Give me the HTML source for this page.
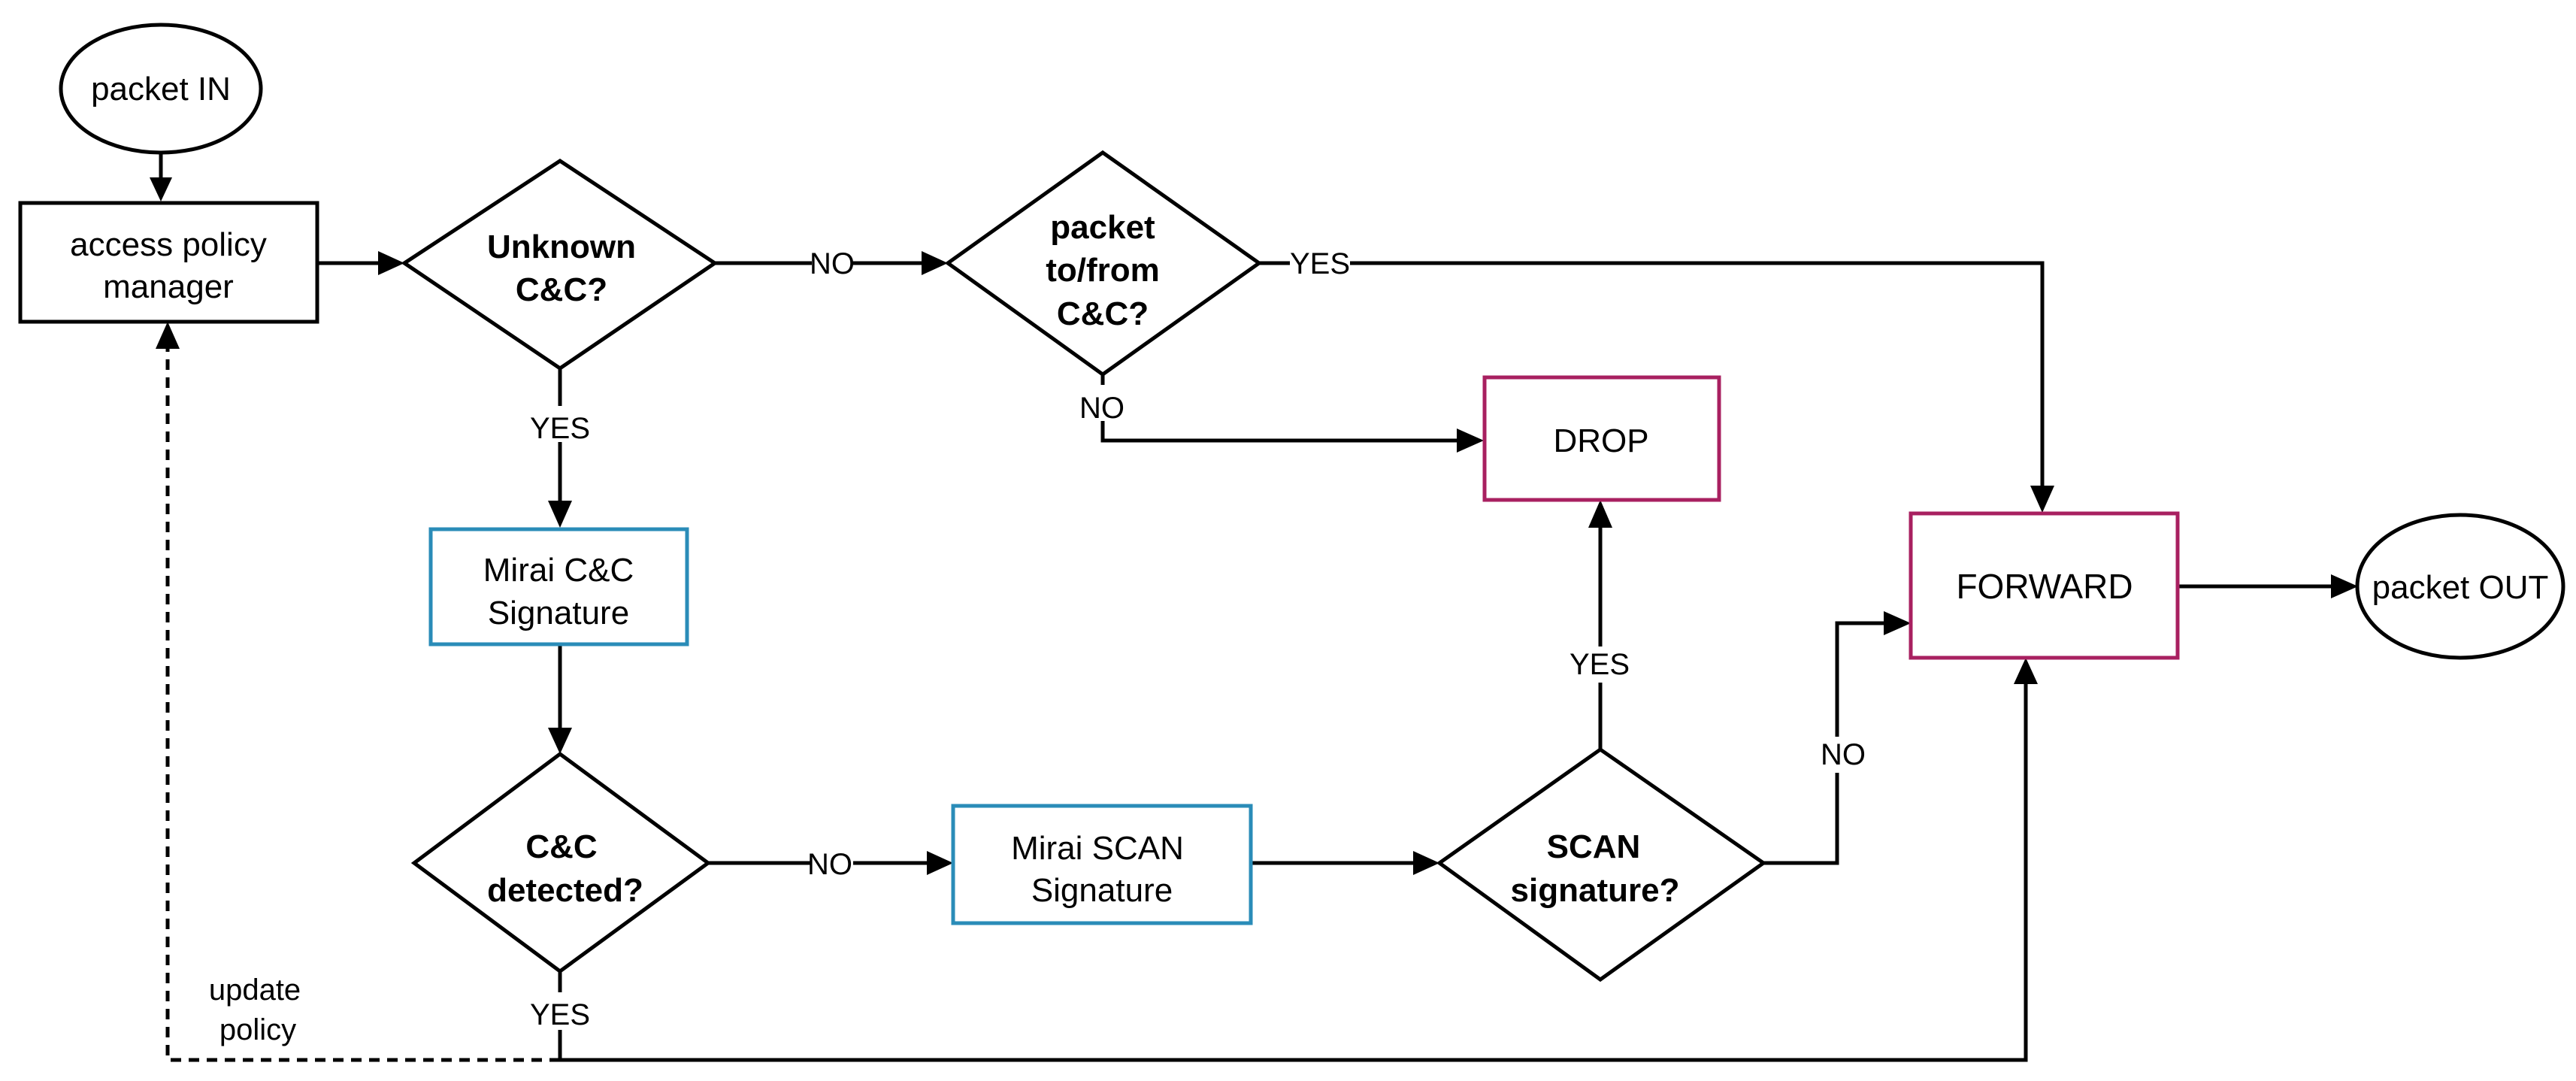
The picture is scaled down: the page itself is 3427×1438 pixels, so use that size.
<!DOCTYPE html>
<html><head><meta charset="utf-8"><style>
html,body{margin:0;padding:0;background:#fff;}
svg{display:block;}
text{font-family:"Liberation Sans",Arial,sans-serif;fill:#000;}
</style></head><body>
<svg width="3427" height="1438" viewBox="0 0 3427 1438" xmlns="http://www.w3.org/2000/svg">
<defs>
<marker id="a" markerWidth="10" markerHeight="10" refX="9" refY="5" orient="auto" markerUnits="userSpaceOnUse" viewBox="0 0 10 10" >
</marker>
</defs>
<g fill="none" stroke="#000" stroke-width="5">
<!-- shapes -->
<ellipse cx="214" cy="118" rx="133" ry="85"/>
<rect x="27" y="270" width="395" height="158"/>
<polygon points="538,350 745,214 951,350 745,490"/>
<polygon points="1261,350 1467,203 1675,350 1467,498"/>
<polygon points="551,1148 745,1003 942,1148 745,1292"/>
<polygon points="1915,1148 2129,997 2346,1148 2129,1303"/>
<ellipse cx="3273" cy="780" rx="137" ry="95"/>
<!-- connectors -->
<line x1="214" y1="203" x2="214" y2="240"/>
<line x1="422" y1="350" x2="505" y2="350"/>
<line x1="951" y1="350" x2="1228" y2="350"/>
<polyline points="1675,350 2717,350 2717,648"/>
<polyline points="1467,498 1467,586 1940,586"/>
<line x1="2897" y1="780" x2="3103" y2="780"/>
<line x1="745" y1="490" x2="745" y2="668"/>
<line x1="745" y1="857" x2="745" y2="970"/>
<line x1="942" y1="1148" x2="1235" y2="1148"/>
<line x1="1664" y1="1148" x2="1882" y2="1148"/>
<line x1="2129" y1="997" x2="2129" y2="700"/>
<polyline points="2346,1148 2444,1148 2444,829 2508,829"/>
<polyline points="745,1292 745,1410 2695,1410 2695,908"/>
<polyline points="745,1410 223,1410 223,462" stroke-dasharray="14,10"/>
</g>
<g fill="#000" stroke="none">
<polygon points="214,268 199,236 229,236"/>
<polygon points="538,350 503,334 503,366"/>
<polygon points="1261,350 1226,334 1226,366"/>
<polygon points="2717,682 2701,646 2733,646"/>
<polygon points="1974,586 1938,570 1938,602"/>
<polygon points="3137,780 3101,764 3101,796"/>
<polygon points="745,702 729,666 761,666"/>
<polygon points="745,1003 729,968 761,968"/>
<polygon points="1268,1148 1233,1132 1233,1164"/>
<polygon points="1915,1148 1880,1132 1880,1164"/>
<polygon points="2129,665 2113,702 2145,702"/>
<polygon points="2542,829 2506,813 2506,845"/>
<polygon points="2695,875 2679,910 2711,910"/>
<polygon points="223,428 207,464 239,464"/>
</g>
<g fill="#fff" stroke-width="5">
<rect x="573" y="704" width="341" height="153" stroke="#2a8cb8"/>
<rect x="1268" y="1072" width="396" height="156" stroke="#2a8cb8"/>
<rect x="1975" y="502" width="312" height="163" stroke="#a82060"/>
<rect x="2542" y="683" width="355" height="192" stroke="#a82060"/>
</g>
<!-- label backgrounds -->
<g fill="#fff">
<rect x="1080" y="330" width="55" height="40"/>
<rect x="1716" y="330" width="80" height="40"/>
<rect x="1440" y="512" width="60" height="48"/>
<rect x="700" y="540" width="90" height="48"/>
<rect x="1080" y="1128" width="55" height="40"/>
<rect x="2090" y="860" width="80" height="48"/>
<rect x="2420" y="980" width="60" height="48"/>
<rect x="700" y="1320" width="90" height="50"/>
</g>
<g font-size="44" text-anchor="middle">
<text x="214" y="133">packet IN</text>
<text x="224" y="340">access policy</text>
<text x="224" y="396">manager</text>
<text x="743" y="773">Mirai C&amp;C</text>
<text x="743" y="830">Signature</text>
<text x="1460" y="1143">Mirai SCAN</text>
<text x="1466" y="1199">Signature</text>
<text x="2130" y="601">DROP</text>
<text x="2720" y="796" font-size="46">FORWARD</text>
<text x="3273" y="796">packet OUT</text>
</g>
<g font-size="40" text-anchor="middle">
<text x="1107" y="364">NO</text>
<text x="1756" y="364">YES</text>
<text x="1466" y="556">NO</text>
<text x="745" y="583">YES</text>
<text x="1104" y="1163">NO</text>
<text x="2128" y="897">YES</text>
<text x="2452" y="1017">NO</text>
<text x="745" y="1363">YES</text>
<text x="339" y="1330">update</text>
<text x="343" y="1383">policy</text>
</g>
<g font-size="44" font-weight="bold" text-anchor="middle">
<text x="747" y="343">Unknown</text>
<text x="747" y="400">C&amp;C?</text>
<text x="1467" y="317">packet</text>
<text x="1467" y="374">to/from</text>
<text x="1467" y="432">C&amp;C?</text>
<text x="747" y="1141">C&amp;C</text>
<text x="752" y="1199">detected?</text>
<text x="2120" y="1141">SCAN</text>
<text x="2122" y="1199">signature?</text>
</g>
</svg>
</body></html>
